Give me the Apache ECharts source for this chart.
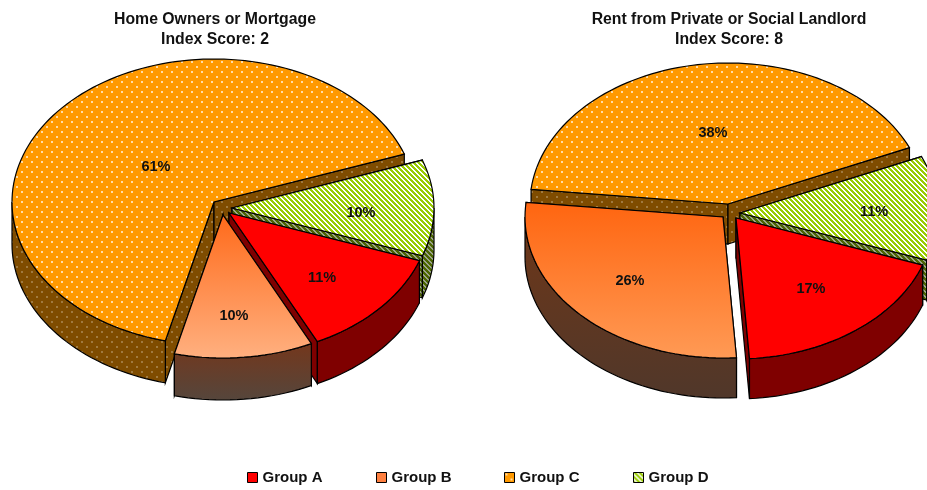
<!DOCTYPE html>
<html>
<head>
  <meta charset="utf-8">
  <script src="https://cdn.jsdelivr.net/npm/echarts@6/dist/echarts.min.js"></script>
  <style>
    html, body { margin: 0; padding: 0; background: #fff; }
    #chart { width: 927px; height: 490px; }
  </style>
</head>
<body>
  <div id="chart"></div>
  <script>
    // shares, labels show them rounded
    var pieTitles = ['Home Owners or Mortgage\nIndex Score: 2', 'Rent from Private or Social Landlord\nIndex Score: 8'];
    var groupNames = ['Group A', 'Group B', 'Group C', 'Group D'];
    var groupA = [11.4, 17.0];
    var groupB = [10.2, 25.5];
    var groupC = [60.5, 38.4];
    var groupD = [10.0, 11.0];
    var groupValues = [groupA, groupB, groupC, groupD];

    // pie geometry, slice apex is the pie centre moved by the explode offset
    var pies = [
      { cx: 214, cy: 202, rx: 202, ry: 143, depth: 42,
        explode: [[15, 11], [9, 13], [0, 0], [18, 6]],
        label: [[93, 65], [11, 101], [-58, -35], [129, 5]],
        bTop: ['#ff6a1a', '#ffb080'], bSide: ['#74371c', '#55463c'] },
      { cx: 728, cy: 204, rx: 198, ry: 141, depth: 40,
        explode: [[8, 14], [-5, 13], [0, 0], [12, 9]],
        label: [[75, 71], [-93, 64], [-15, -71], [134, -1]],
        bTop: ['#ff6510', '#ff9a55'], bSide: ['#6f3718', '#50372a'] }
    ];
    var startAngle = 109.5; // clockwise from the top, first slice is group A

    function pattern(w, h, bg, fg, draw) {
      var c = document.createElement('canvas');
      c.width = w;
      c.height = h;
      var ctx = c.getContext('2d');
      ctx.fillStyle = bg;
      ctx.fillRect(0, 0, w, h);
      ctx.fillStyle = fg;
      draw(ctx);
      return { image: c, repeat: 'repeat' };
    }
    function dots(ctx) {
      ctx.fillRect(1, 1, 2, 2);
      ctx.fillRect(6, 6, 2, 2);
    }
    function stripes(ctx) {
      for (var y = 0; y < 5; y++) {
        for (var x = 0; x < 5; x++) {
          if ((x - y + 5) % 5 < 3) ctx.fillRect(x, y, 1, 1);
        }
      }
    }
    var fillC = pattern(10, 10, '#ff9900', '#ffdca6', dots);
    var sideC = pattern(10, 10, '#7f4c00', '#a07a40', dots);
    var fillD = pattern(5, 5, '#ffffff', '#99cc00', stripes);
    var sideD = pattern(5, 5, '#9ca38c', '#4c6600', stripes);

    function gradient(stops) {
      return { type: 'linear', x: 0, y: 0, x2: 0, y2: 1,
        colorStops: [{ offset: 0, color: stops[0] }, { offset: 1, color: stops[1] }] };
    }
    function sliceFill(g, pie) {
      return [ '#ff0000', gradient(pie.bTop), fillC, fillD ][g];
    }
    function sideFill(g, pie) {
      return [ '#7f0000', gradient(pie.bSide), sideC, sideD ][g];
    }

    // angles of one slice, from the share of the pie's total
    function sliceAngles(p, g) {
      var total = 0, before = 0;
      groupValues.forEach(function(v, i) {
        total += v[p];
        if (i < g) before += v[p];
      });
      var a0 = startAngle + before / total * 360;
      return [a0, a0 + groupValues[g][p] / total * 360];
    }
    function rim(pie, ox, oy, a) {
      var t = a * Math.PI / 180;
      return [ox + pie.rx * Math.sin(t), oy - pie.ry * Math.cos(t)];
    }
    function arc(pie, ox, oy, a0, a1) {
      var pts = [], n = Math.max(2, Math.ceil((a1 - a0) / 2));
      for (var i = 0; i <= n; i++) pts.push(rim(pie, ox, oy, a0 + (a1 - a0) * i / n));
      return pts;
    }
    function poly(points, fill) {
      return { type: 'polygon', shape: { points: points },
        style: { fill: fill, stroke: '#000', lineWidth: 1.2 } };
    }

    function makeRenderItem(g) {
      return function(params, api) {
        var p = api.value(0);
        var pie = pies[p];
        var ox = pie.cx + pie.explode[g][0];
        var oy = pie.cy + pie.explode[g][1];
        var d = pie.depth;
        var ang = sliceAngles(p, g);
        var side = sideFill(g, pie);
        var kids = [];
        // cut faces
        [ang[0], ang[1]].forEach(function(a) {
          var e = rim(pie, ox, oy, a);
          kids.push(poly([[ox, oy], e, [e[0], e[1] + d], [ox, oy + d]], side));
        });
        // outer wall, only the front half of the pie shows it
        [0, -360].forEach(function(turn) {
          var w0 = Math.max(ang[0] + turn, 90), w1 = Math.min(ang[1] + turn, 270);
          if (w1 > w0) {
            var top = arc(pie, ox, oy, w0, w1);
            var bottom = top.map(function(q) { return [q[0], q[1] + d]; }).reverse();
            kids.push(poly(top.concat(bottom), side));
          }
        });
        // top face
        kids.push(poly([[ox, oy]].concat(arc(pie, ox, oy, ang[0], ang[1])), sliceFill(g, pie)));
        kids.push({ type: 'text', style: {
          text: Math.round(api.value(1)) + '%',
          x: ox + pie.label[g][0], y: oy + pie.label[g][1],
          fill: '#111', align: 'center', verticalAlign: 'middle',
          font: 'bold 14.5px "Liberation Sans", Arial, sans-serif'
        } });
        return { type: 'group', children: kids };
      };
    }

    var chart = echarts.init(document.getElementById('chart'), null, { renderer: 'canvas' });

    // back to front: C, D, A, B
    var drawOrder = { 2: 1, 3: 2, 0: 3, 1: 4 };
    var series = groupNames.map(function(name, g) {
      return {
        name: name,
        type: 'custom',
        coordinateSystem: 'none',
        z: drawOrder[g],
        silent: true,
        animation: false,
        renderItem: makeRenderItem(g),
        data: groupValues[g].map(function(v, p) { return [p, v]; })
      };
    });

    var legendFills = ['#ff0000', '#ff8040', fillC, fillD];
    var legendLefts = [247, 376, 504, 633];

    chart.setOption({
      backgroundColor: '#fff',
      animation: false,
      title: pieTitles.map(function(t, i) {
        return {
          text: t,
          left: [215, 729][i],
          top: 10,
          padding: 0,
          textAlign: 'center',
          textStyle: { fontFamily: '"Liberation Sans", Arial, sans-serif', fontWeight: 'bold', fontSize: 15.8, lineHeight: 20, color: '#111' }
        };
      }),
      legend: groupNames.map(function(n, g) {
        return {
          left: legendLefts[g],
          top: 470,
          padding: 0,
          itemWidth: 10,
          itemHeight: 10,
          selectedMode: false,
          textStyle: { fontFamily: '"Liberation Sans", Arial, sans-serif', fontWeight: 'bold', fontSize: 15, color: '#111' },
          data: [{ name: n, icon: 'rect', itemStyle: { color: legendFills[g], borderColor: '#000', borderWidth: 1 } }]
        };
      }),
      series: series
    });
  </script>
</body>
</html>
